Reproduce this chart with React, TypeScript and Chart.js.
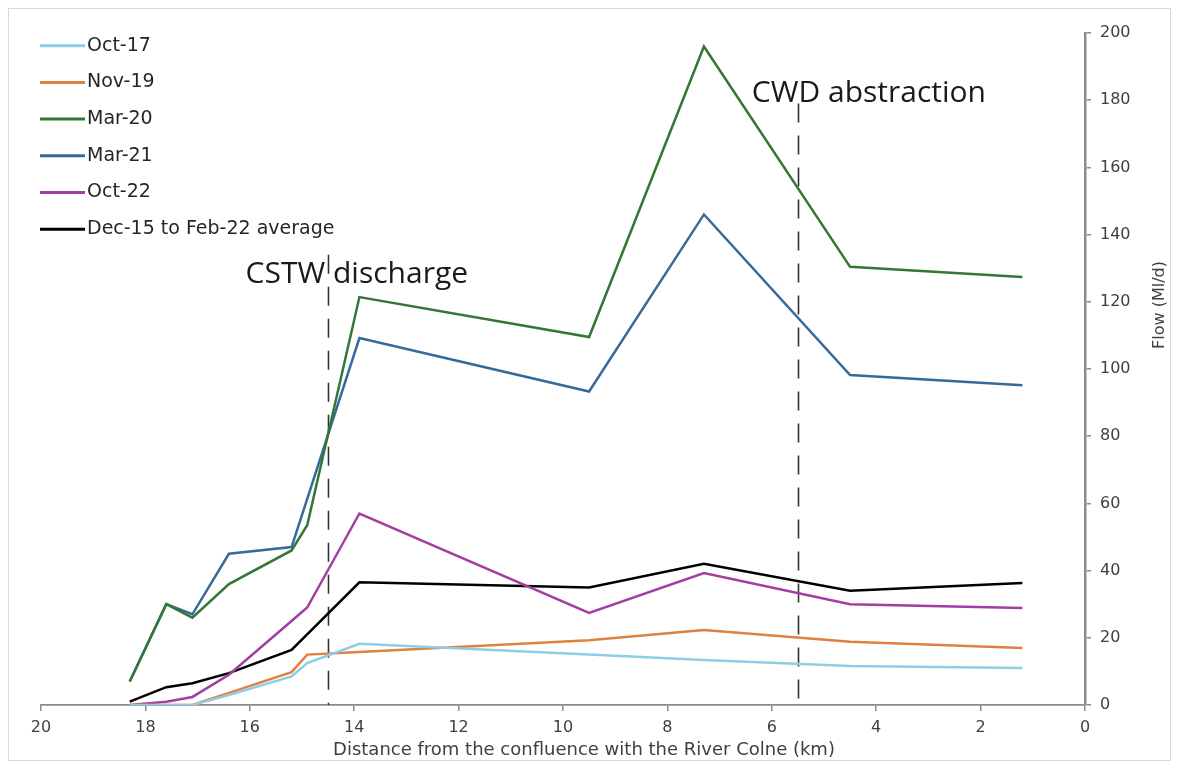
import React, { useEffect, useRef } from "react";
import { Chart, registerables } from "chart.js";

Chart.register(...registerables);

// Distance from the confluence with the River Colne (km)
const distanceKm = [18.3, 17.6, 17.1, 16.4, 15.2, 14.9, 13.9, 9.5, 7.3, 4.5, 1.2];

const seriesLabels = ["Oct-17", "Nov-19", "Mar-20", "Mar-21", "Oct-22", "Dec-15 to Feb-22 average"];

// Flow (Ml/d)
const oct17 = [0, 0, 0, 3, 8.5, 12.5, 18.2, 15, 13.4, 11.6, 11];
const nov19 = [0, 0, 0, 3.6, 9.8, 15, 15.8, 19.3, 22.3, 18.8, 17];
const mar20 = [7, 30, 26, 36, 46, 53.5, 121.4, 109.5, 196, 130.4, 127.4];
const mar21 = [7, 30, 27, 45, 47, null, 109.2, 93.3, 146, 98.2, 95.2];
const oct22 = [0, 1, 2.4, 9, 25, 29, 57, 27.4, 39.3, 30, 28.9];
const avg1522 = [1, 5.3, 6.5, 9.5, 16.4, null, 36.5, 35, 42, 34, 36.3];

const seriesValues = [oct17, nov19, mar20, mar21, oct22, avg1522];
const seriesColors = ["#8ECDE6", "#E0803F", "#357535", "#356B9C", "#A23EA2", "#000000"];

const xMin = 0;
const xMax = 20;
const xStep = 2;
const yMin = 0;
const yMax = 200;
const yStep = 20;

const xTitle = "Distance from the confluence with the River Colne (km)";
const yTitle = "Flow (Ml/d)";

// Marker lines (CSTW discharge, CWD abstraction)
const markerLabels = ["CSTW discharge", "CWD abstraction"];
const markerKm = [14.5, 5.5];
const markerTopFlow = [134, 179];
const markerLabelKm = [13.95, 4.14];
const markerLabelFlow = [125.5, 179.5];

const FONT = '"DejaVu Sans", Verdana, sans-serif';

const overlayPlugin = {
  id: "overlay",
  beforeDatasetsDraw(chart: any) {
    const { ctx } = chart;
    const x = chart.scales.x;
    const y = chart.scales.y;
    ctx.save();
    ctx.strokeStyle = "#333333";
    ctx.lineWidth = 1.6;
    ctx.setLineDash([19, 13]);
    markerKm.forEach((km, i) => {
      const px = Math.round(x.getPixelForValue(km)) + 0.5;
      ctx.beginPath();
      ctx.moveTo(px, y.getPixelForValue(markerTopFlow[i]));
      ctx.lineTo(px, y.getPixelForValue(0));
      ctx.stroke();
    });
    ctx.restore();
  },
  afterDraw(chart: any) {
    const { ctx, chartArea } = chart;
    const x = chart.scales.x;
    const y = chart.scales.y;
    ctx.save();
    // marker labels
    ctx.fillStyle = "#1a1a1a";
    ctx.font = '30px "Open Sans", "Noto Sans", sans-serif';
    ctx.textAlign = "center";
    ctx.textBaseline = "alphabetic";
    markerLabels.forEach((t, i) => {
      ctx.fillText(t, x.getPixelForValue(markerLabelKm[i]), y.getPixelForValue(markerLabelFlow[i]));
    });

    // legend
    ctx.font = "19px " + FONT;
    ctx.textAlign = "left";
    ctx.textBaseline = "middle";
    chart.data.datasets.forEach((ds: any, i: number) => {
      const cy = chartArea.top + 12.7 + i * 36.7;
      ctx.strokeStyle = ds.borderColor;
      ctx.lineWidth = 3;
      ctx.setLineDash([]);
      ctx.beginPath();
      ctx.moveTo(chartArea.left - 1, cy);
      ctx.lineTo(chartArea.left + 44, cy);
      ctx.stroke();
      ctx.fillStyle = "#262626";
      ctx.fillText(ds.label, chartArea.left + 46, cy);
    });

    // x axis title
    ctx.font = "18px " + FONT;
    ctx.fillStyle = "#404040";
    ctx.textAlign = "center";
    ctx.textBaseline = "middle";
    ctx.fillText(xTitle, chartArea.left + 543, chartArea.bottom + 45);

    // y axis title, reading bottom to top
    ctx.translate(chartArea.right + 75, chartArea.top + 272);
    ctx.rotate(-Math.PI / 2);
    ctx.font = "16px " + FONT;
    ctx.fillStyle = "#404040";
    ctx.textAlign = "center";
    ctx.textBaseline = "middle";
    ctx.fillText(yTitle, 0, 0);
    ctx.restore();
  },
};

export default function App() {
  const canvasRef = useRef<HTMLCanvasElement | null>(null);

  useEffect(() => {
    if (!canvasRef.current) return;
    const datasets = seriesLabels.map((label, i) => ({
      label,
      data: distanceKm.map((d, j) => ({ x: d, y: seriesValues[i][j] })),
      borderColor: seriesColors[i],
      backgroundColor: seriesColors[i],
      borderWidth: 2.5,
      pointRadius: 0,
      tension: 0,
      spanGaps: true,
      fill: false,
    }));

    const axisColor = "#8c8c8c";
    const chart = new Chart(canvasRef.current, {
      type: "line",
      data: { datasets },
      options: {
        animation: false,
        responsive: false,
        devicePixelRatio: 1,
        layout: { padding: { left: 32, top: 24, right: 0, bottom: 0 } },
        plugins: {
          legend: { display: false },
          tooltip: { enabled: false },
        },
        scales: {
          x: {
            type: "linear",
            reverse: true,
            min: xMin,
            max: xMax,
            afterFit: (s: any) => {
              s.height = 55;
            },
            ticks: {
              stepSize: xStep,
              color: "#404040",
              font: { family: FONT, size: 16 },
              padding: 7,
              maxRotation: 0,
            },
            grid: {
              display: true,
              drawOnChartArea: false,
              drawTicks: true,
              tickLength: 6,
              color: axisColor,
              lineWidth: 1.5,
            },
            border: { display: true, color: axisColor, width: 1.8 },
            title: { display: false },
          },
          y: {
            type: "linear",
            position: "right",
            min: yMin,
            max: yMax,
            afterFit: (s: any) => {
              s.width = 85;
            },
            ticks: {
              stepSize: yStep,
              color: "#404040",
              font: { family: FONT, size: 16 },
              padding: 9,
            },
            grid: {
              display: true,
              drawOnChartArea: false,
              drawTicks: true,
              tickLength: 6,
              color: axisColor,
              lineWidth: 1.5,
            },
            border: { display: true, color: axisColor, width: 2.5 },
            title: { display: false },
          },
        },
      },
      plugins: [overlayPlugin],
    } as any);
    return () => chart.destroy();
  }, []);

  return (
    <div
      style={{
        width: 1163,
        height: 753,
        border: "1px solid #d9d9d9",
        boxSizing: "border-box",
        background: "#ffffff",
      }}
    >
      <canvas ref={canvasRef} width={1161} height={751} style={{ display: "block" }} />
    </div>
  );
}
